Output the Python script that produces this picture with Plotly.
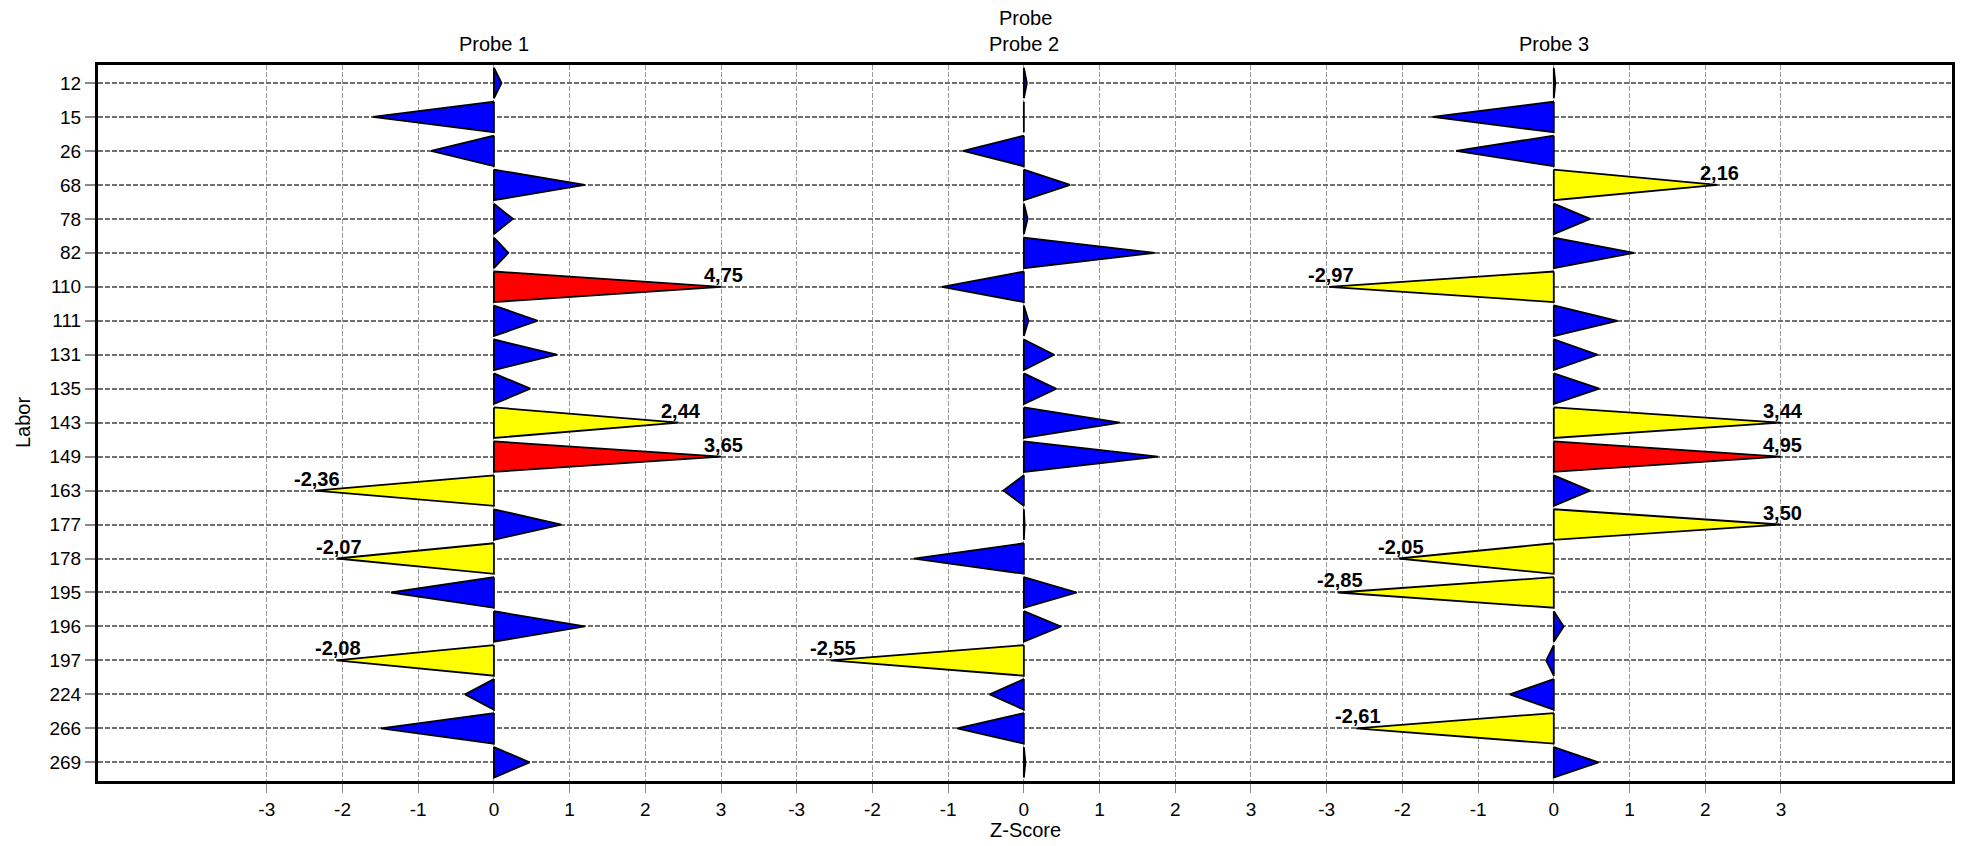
import plotly.graph_objects as go

# ---------------- data ----------------
labor_ids = ["12", "15", "26", "68", "78", "82", "110", "111", "131", "135", "143",
             "149", "163", "177", "178", "195", "196", "197", "224", "266", "269"]
probe_names = ["Probe 1", "Probe 2", "Probe 3"]

z_probe1 = [0.10, -1.60, -0.83, 1.20, 0.25, 0.19, 4.75, 0.58, 0.83, 0.48, 2.44,
            3.65, -2.36, 0.89, -2.07, -1.36, 1.20, -2.08, -0.38, -1.49, 0.47]
z_probe2 = [0.04, -0.01, -0.80, 0.61, 0.05, 1.73, -1.08, 0.06, 0.40, 0.43, 1.27,
            1.77, -0.27, 0.01, -1.45, 0.70, 0.49, -2.55, -0.45, -0.88, 0.02]
z_probe3 = [0.02, -1.60, -1.29, 2.16, 0.48, 1.06, -2.97, 0.84, 0.58, 0.60, 3.44,
            4.95, 0.48, 3.50, -2.05, -2.85, 0.13, -0.10, -0.58, -2.61, 0.59]

z_ticks = [-3, -2, -1, 0, 1, 2, 3]
z_tick_labels = ["-3", "-2", "-1", "0", "1", "2", "3"]

# ---------------- styling / layout constants ----------------
FONT = "Liberation Sans, Arial, Helvetica, sans-serif"
PANEL_STEP = 7        # x distance between panel centres (z units)
CLIP = 3              # triangle tips are clipped at +/-3
HALF = 0.45           # half height of a triangle base (rows)


def z_color(z):
    a = abs(z)
    if a < 2:
        return "#0000ff"
    if a <= 3.5:
        return "#ffff00"
    return "#ff0000"


fig = go.Figure()
all_z = [z_probe1, z_probe2, z_probe3]
tickvals, ticktext = [], []
for p, zs in enumerate(all_z):
    off = p * PANEL_STEP
    for t, lab in zip(z_ticks, z_tick_labels):
        tickvals.append(off + t)
        ticktext.append(lab)
    for i, z in enumerate(zs):
        tip = max(-CLIP, min(CLIP, z))
        fig.add_trace(go.Scatter(
            x=[off, off, off + tip, off],
            y=[i - HALF, i + HALF, i, i - HALF],
            mode="lines", fill="toself", fillcolor=z_color(z),
            line=dict(color="black", width=1.8),
            hoverinfo="skip", showlegend=False))
        if abs(z) >= 2:
            fig.add_annotation(
                x=off + tip, y=i, text="<b>" + f"{z:.2f}".replace(".", ",") + "</b>",
                showarrow=False, xanchor="center", yanchor="bottom",
                xshift=2, yshift=-1,
                font=dict(family=FONT, size=20, color="black"))
    # panel header
    fig.add_annotation(x=off, y=1.0293, xref="x", yref="paper",
                       text=probe_names[p], showarrow=False,
                       xanchor="center", yanchor="middle",
                       font=dict(family=FONT, size=20, color="black"))

fig.add_annotation(x=0.5, y=1.0663, xref="paper", yref="paper", text="Probe",
                   showarrow=False, xanchor="center", yanchor="middle",
                   font=dict(family=FONT, size=20, color="black"))
fig.add_annotation(x=0.5, y=-0.0684, xref="paper", yref="paper", text="Z-Score",
                   showarrow=False, xanchor="center", yanchor="middle",
                   font=dict(family=FONT, size=20, color="black"))
fig.add_annotation(x=-0.0404, y=0.5, xref="paper", yref="paper", text="Labor",
                   showarrow=False, xanchor="center", yanchor="middle", textangle=-90,
                   font=dict(family=FONT, size=20, color="black"))

fig.update_layout(
    width=1964, height=846,
    margin=dict(l=98, r=9, t=65, b=65),
    paper_bgcolor="white", plot_bgcolor="white",
    font=dict(family=FONT, size=19, color="black"),
    showlegend=False,
    xaxis=dict(
        range=[-5.23, 19.26], tickmode="array", tickvals=tickvals, ticktext=ticktext,
        showgrid=True, gridcolor="#999999", gridwidth=1, griddash="5px,2px",
        zeroline=False, showline=True, linecolor="black", linewidth=3, mirror=True,
        ticks="outside", ticklen=9, tickcolor="#8a8a8a", tickwidth=1,
        tickfont=dict(family=FONT, size=19, color="black"), fixedrange=True),
    yaxis=dict(
        range=[20.55, -0.53], tickmode="array", tickvals=list(range(len(labor_ids))),
        ticktext=labor_ids,
        showgrid=True, gridcolor="#707070", gridwidth=2, griddash="5px,2px",
        zeroline=False, showline=True, linecolor="black", linewidth=3, mirror=True,
        ticks="outside", ticklen=10, tickcolor="#8a8a8a", tickwidth=2,
        tickfont=dict(family=FONT, size=19, color="black"), fixedrange=True),
)

fig.write_html("out.html", config={"displayModeBar": False},
               post_script="document.body.style.margin='0';document.body.style.overflow='hidden';")
